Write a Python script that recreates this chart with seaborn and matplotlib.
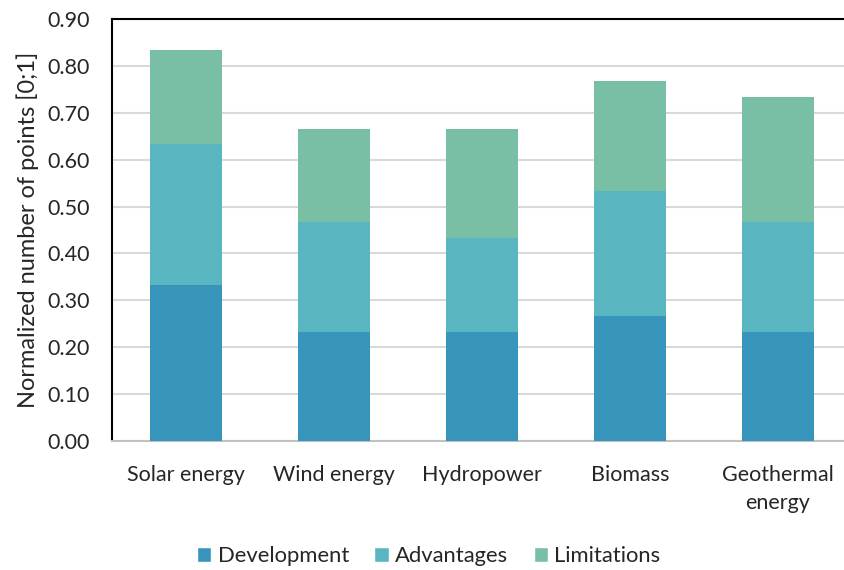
import numpy as np
import pandas as pd
import matplotlib
matplotlib.use("Agg")
import matplotlib.pyplot as plt
import seaborn as sns
from matplotlib.patches import Patch

sources = ["Solar energy", "Wind energy", "Hydropower", "Biomass", "Geothermal\nenergy"]
development = [0.333, 0.233, 0.233, 0.267, 0.233]
advantages = [0.300, 0.233, 0.200, 0.267, 0.233]
limitations = [0.200, 0.200, 0.233, 0.233, 0.267]

series = ["Development", "Advantages", "Limitations"]
colors = ["#3795BC", "#59B6C0", "#78BFA6"]

sns.set_theme(style="white")
plt.rcParams["font.family"] = ["Lato", "DejaVu Sans"]

df = pd.DataFrame({"source": sources,
                   "Development": development,
                   "Advantages": advantages,
                   "Limitations": limitations})
# cumulative heights for stacking
df["cum_dev"] = df["Development"]
df["cum_adv"] = df["cum_dev"] + df["Advantages"]
df["cum_lim"] = df["cum_adv"] + df["Limitations"]

fig = plt.figure(figsize=(8.44, 5.70), dpi=100)
ax = fig.add_axes([112 / 844, 1 - 441 / 570, 1 - 112 / 844, (441 - 19) / 570])

for col, c in zip(["cum_lim", "cum_adv", "cum_dev"], colors[::-1]):
    sns.barplot(data=df, x="source", y=col, color=c, width=0.49,
                saturation=1, edgecolor="none", ax=ax, zorder=3)

ax.set_ylim(0, 0.9)
ax.set_xlim(-0.5, 4.5 - 8 / 148)
ax.set_yticks(np.arange(0, 0.91, 0.1))
ax.set_yticklabels([f"{v:.2f}" for v in np.arange(0, 0.91, 0.1)])
ax.yaxis.grid(True, color="#D9D9D9", lw=1.5, zorder=0)
ax.set_axisbelow(True)

for s in ["left", "top"]:
    ax.spines[s].set_color("black")
    ax.spines[s].set_linewidth(1.5)
ax.spines["right"].set_visible(False)
ax.spines["bottom"].set_color("#C0C0C0")
ax.spines["bottom"].set_linewidth(1.5)

ax.tick_params(axis="both", labelsize=15.5, length=0)
ax.tick_params(axis="y", pad=16)
ax.tick_params(axis="x", pad=17)
for lbl in ax.get_xticklabels():
    lbl.set_linespacing(1.55)
ax.set_xlabel("")
ax.set_ylabel("Normalized number of points [0;1]", fontsize=17, labelpad=6)

handles = [Patch(facecolor=c, label=s) for s, c in zip(series, colors)]
fig.legend(handles=handles, loc="center", bbox_to_anchor=(0.508, 1 - 556 / 570),
           ncol=3, frameon=False, fontsize=15.8, handlelength=0.65, handleheight=0.65,
           handletextpad=0.3, columnspacing=1.15)

fig.savefig("out.png", dpi=100)
